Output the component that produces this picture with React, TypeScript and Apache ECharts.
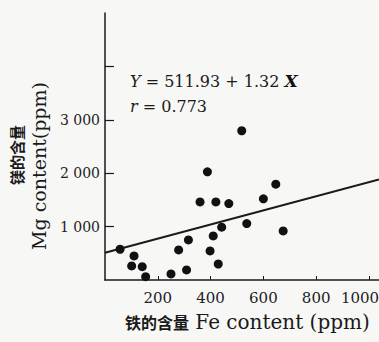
import React, { useEffect, useRef } from "react";
import * as echarts from "echarts";

// Fe content (ppm) and Mg content (ppm) of each sample
const feContent = [57, 110, 101, 141, 154, 250, 309, 279, 316, 388, 518, 360, 420, 469, 410, 398, 429, 442, 537, 600, 647, 675];
const mgContent = [576, 450, 263, 250, 62, 113, 188, 563, 750, 2026, 2795, 1463, 1463, 1432, 826, 544, 300, 989, 1056, 1520, 1795, 919];

// regression Y = a + b X
const intercept = 511.93;
const slope = 1.32;
const rValue = "0.773";

const xTickValues = [200, 400, 600, 800, 1000];
const yTickValues = [1000, 2000, 3000, 4000];
const yLabelValues = [1000, 2000, 3000];
const xMax = 1038;
const yMax = 5000;

const serif = "DejaVu Serif";
const cjk = "Noto Sans CJK SC";
const ink = "#1a1a1a";

export default function App() {
  const ref = useRef<HTMLDivElement>(null);
  useEffect(() => {
    if (!ref.current) return;
    const chart = echarts.init(ref.current, null, { renderer: "svg" });
    const points = feContent.map((x, i) => [x, mgContent[i]]);
    const line = [
      [0, intercept],
      [xMax, intercept + slope * xMax],
    ];
    const lastX = xTickValues[xTickValues.length - 1];
    chart.setOption({
      animation: false,
      backgroundColor: "#f7f7f6",
      grid: { left: 105, right: 0, top: 13, bottom: 62, outerBoundsMode: "none", containLabel: false },
      xAxis: {
        type: "value",
        min: 0,
        max: xMax,
        interval: 200,
        splitLine: { show: false },
        axisLine: { show: true, lineStyle: { color: ink, width: 1.5 } },
        axisTick: { show: true, inside: true, length: 4, customValues: xTickValues, lineStyle: { color: ink } },
        axisLabel: {
          customValues: xTickValues,
          fontFamily: serif,
          fontSize: 15,
          color: "#222",
          margin: 10,
          formatter: (v: number) => (v === lastX ? "{last|" + v + "}" : String(v)),
          rich: {
            last: { fontFamily: serif, fontSize: 15, color: "#222", padding: [0, 18, 0, 0] },
          },
        },
      },
      yAxis: {
        type: "value",
        min: 0,
        max: yMax,
        interval: 1000,
        splitLine: { show: false },
        axisLine: { show: true, lineStyle: { color: ink, width: 1.5 } },
        axisTick: { show: true, inside: true, length: 9, customValues: yTickValues, lineStyle: { color: ink, width: 1.2 } },
        axisLabel: {
          customValues: yLabelValues,
          fontFamily: serif,
          fontSize: 14,
          color: "#222",
          margin: 5,
          formatter: (v: number) => {
            const s = String(v);
            return s.slice(0, s.length - 3) + " " + s.slice(-3);
          },
        },
      },
      series: [
        {
          type: "line",
          data: line,
          symbol: "none",
          lineStyle: { color: ink, width: 2 },
          z: 1,
        },
        {
          type: "scatter",
          data: points,
          symbol: "circle",
          symbolSize: 9,
          itemStyle: { color: "#111", opacity: 1 },
          z: 2,
        },
      ],
      graphic: [
        {
          type: "text",
          x: 130,
          y: 81,
          style: {
            text: "{i|Y} = 511.93 + 1.32 {b|X}",
            fontFamily: serif,
            fontSize: 16,
            fill: "#1a1a1a",
            verticalAlign: "middle",
            rich: {
              i: { fontFamily: serif, fontSize: 16, fontStyle: "italic", fill: "#1a1a1a" },
              b: { fontFamily: serif, fontSize: 17, fontStyle: "italic", fontWeight: "bold", fill: "#111" },
            },
          },
        },
        {
          type: "text",
          x: 130,
          y: 106,
          style: {
            text: "{i|r} = " + rValue,
            fontFamily: serif,
            fontSize: 16,
            fill: "#1a1a1a",
            verticalAlign: "middle",
            rich: {
              i: { fontFamily: serif, fontSize: 16, fontStyle: "italic", fill: "#1a1a1a" },
            },
          },
        },
        {
          type: "text",
          x: 125,
          y: 322,
          style: {
            text: "{cn|铁的含量} Fe content (ppm)",
            fontFamily: serif,
            fontSize: 20,
            fill: "#1a1a1a",
            verticalAlign: "middle",
            rich: {
              cn: { fontFamily: cjk, fontSize: 16, fontWeight: "bold", fill: "#1a1a1a" },
            },
          },
        },
        {
          type: "text",
          x: 16,
          y: 155,
          rotation: Math.PI / 2,
          style: {
            text: "镁的含量",
            fontFamily: cjk,
            fontSize: 15,
            fontWeight: "bold",
            fill: "#1a1a1a",
            align: "center",
            verticalAlign: "middle",
          },
        },
        {
          type: "text",
          x: 39,
          y: 166,
          rotation: Math.PI / 2,
          style: {
            text: "Mg content(ppm)",
            fontFamily: serif,
            fontSize: 19,
            fill: "#1a1a1a",
            align: "center",
            verticalAlign: "middle",
          },
        },
      ],
    });
    return () => chart.dispose();
  }, []);
  return (
    <div
      ref={ref}
      style={{ position: "fixed", left: 0, top: 0, width: 379, height: 342 }}
    />
  );
}
